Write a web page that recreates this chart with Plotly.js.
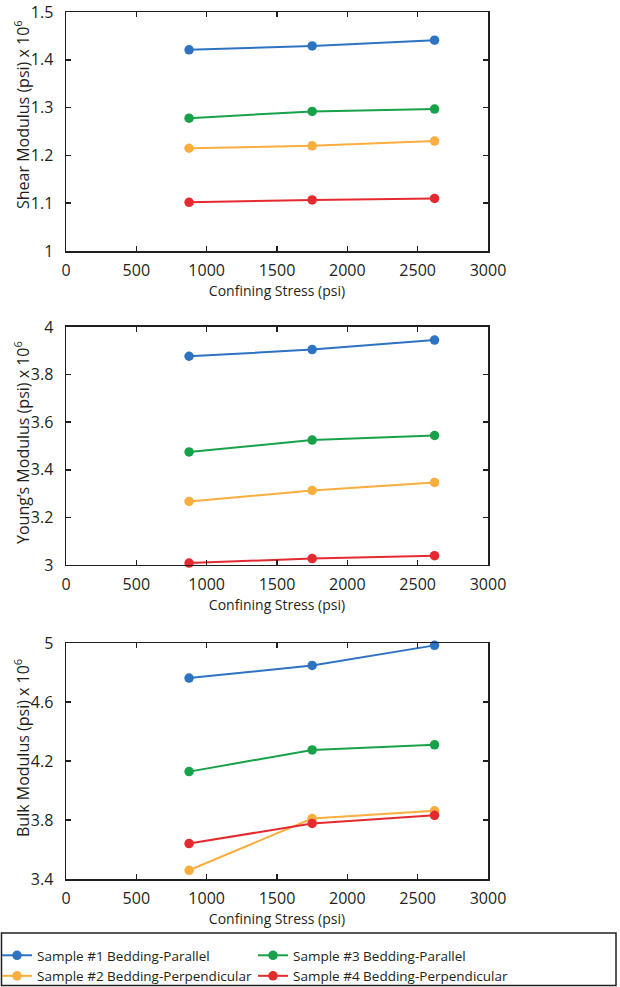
<!DOCTYPE html>
<html>
<head>
<meta charset="utf-8">
<script src="https://cdn.plot.ly/plotly-3.0.1.min.js"></script>
<style>
html,body{margin:0;padding:0;background:#fff;}
#chart{width:620px;height:987px;}
</style>
</head>
<body>
<div id="chart"></div>
<script>
// Confining stress (psi)
const confiningStress = [875, 1750, 2620];

// Series names
const seriesNames = [
  "Sample #1 Bedding-Parallel",
  "Sample #2 Bedding-Perpendicular",
  "Sample #3 Bedding-Parallel",
  "Sample #4 Bedding-Perpendicular"
];
const seriesColors = ["#2e72c2", "#f9ae3d", "#17a24a", "#e42a2f"];

// Shear modulus (psi x 10^6)
const shearS1 = [1.421, 1.429, 1.441];
const shearS2 = [1.215, 1.220, 1.230];
const shearS3 = [1.278, 1.292, 1.297];
const shearS4 = [1.102, 1.107, 1.110];

// Young's modulus (psi x 10^6)
const youngS1 = [3.877, 3.905, 3.945];
const youngS2 = [3.267, 3.313, 3.347];
const youngS3 = [3.475, 3.525, 3.544];
const youngS4 = [3.008, 3.027, 3.039];

// Bulk modulus (psi x 10^6)
const bulkS1 = [4.762, 4.848, 4.984];
const bulkS2 = [3.459, 3.810, 3.862];
const bulkS3 = [4.128, 4.275, 4.310];
const bulkS4 = [3.640, 3.777, 3.832];

const xTicks = [0, 500, 1000, 1500, 2000, 2500, 3000];
const shearTicks = [1, 1.1, 1.2, 1.3, 1.4, 1.5];
const youngTicks = [3, 3.2, 3.4, 3.6, 3.8, 4];
const bulkTicks = [3.4, 3.8, 4.2, 4.6, 5];

const yTitles = [
  "Shear Modulus (psi) x 10<sup>6</sup>",
  "Young’s Modulus (psi) x 10<sup>6</sup>",
  "Bulk Modulus (psi) x 10<sup>6</sup>"
];

const panels = [
  {ax: "", data: [shearS1, shearS2, shearS3, shearS4]},
  {ax: "2", data: [youngS1, youngS2, youngS3, youngS4]},
  {ax: "3", data: [bulkS1, bulkS2, bulkS3, bulkS4]}
];

// legend columns: #1,#2 in first legend; #3,#4 in second
const legendOf = ["legend", "legend", "legend2", "legend2"];
const order = [0, 2, 1, 3];
const traces = [];
panels.forEach((p, pi) => {
  order.forEach(si => {
    traces.push({
      x: confiningStress,
      y: p.data[si],
      type: "scatter",
      mode: "lines+markers",
      name: seriesNames[si],
      line: {color: seriesColors[si], width: 2},
      marker: {color: seriesColors[si], size: 9.5},
      xaxis: "x" + p.ax,
      yaxis: "y" + p.ax,
      legend: legendOf[si],
      legendrank: si,
      showlegend: pi === 0,
      cliponaxis: false
    });
  });
});

const ink = "#231f20";
const font = {family: "Open Sans, sans-serif", size: 14, color: ink};
function xax(anchor) {
  return {
    range: [0, 3000], tickvals: xTicks, ticktext: xTicks.map(String),
    anchor: anchor, domain: [0, 1], automargin: false,
    showline: true, linecolor: ink, linewidth: 1.5, mirror: "ticks",
    ticks: "inside", ticklen: 5, tickwidth: 1.5, tickcolor: ink,
    showgrid: false, zeroline: false,
    tickfont: {size: 16}, ticklabelstandoff: 4,
    title: {text: "Confining Stress (psi)", font: {size: 14}, standoff: 6}
  };
}
function yax(anchor, dom, range, ticks) {
  return {
    range: range, tickvals: ticks, ticktext: ticks.map(String),
    anchor: anchor, domain: dom, automargin: false,
    showline: true, linecolor: ink, linewidth: 1.5, mirror: "ticks",
    ticks: "inside", ticklen: 5, tickwidth: 1.5, tickcolor: ink,
    showgrid: false, zeroline: false,
    tickfont: {size: 16}, ticklabelstandoff: 8
  };
}

function px2x(p) { return (p - 66) / 422; }
function px2y(p) { return (879 - p) / 867; }

const legendCommon = {
  orientation: "v",
  yanchor: "top", xanchor: "left",
  bgcolor: "rgba(0,0,0,0)", borderwidth: 0,
  itemwidth: 30, tracegroupgap: 0,
  font: {size: 13.5, color: ink}
};

const titleCenters = [115, 443, 748];
const annotations = yTitles.map((t, i) => ({
  text: t, textangle: -90, showarrow: false,
  xref: "paper", yref: "paper",
  x: px2x(22), y: px2y(titleCenters[i]),
  xanchor: "center", yanchor: "middle",
  font: {size: 16, color: ink}
}));

const layout = {
  width: 620, height: 987,
  margin: {l: 66, r: 132, t: 12, b: 108, autoexpand: false},
  paper_bgcolor: "#fff", plot_bgcolor: "#fff",
  font: font,
  showlegend: true,
  xaxis: xax("y"),
  yaxis: yax("x", [0.7243, 1], [1, 1.5], shearTicks),
  xaxis2: xax("y2"),
  yaxis2: yax("x2", [0.3622, 0.6367], [3, 4], youngTicks),
  xaxis3: xax("y3"),
  yaxis3: yax("x3", [0, 0.2722], [3.4, 5], bulkTicks),
  legend: Object.assign({}, legendCommon, {x: px2x(-3), y: px2y(940)}),
  legend2: Object.assign({}, legendCommon, {x: px2x(253), y: px2y(940)}),
  annotations: annotations,
  shapes: [{
    type: "rect", xref: "paper", yref: "paper",
    x0: px2x(1.5), x1: px2x(616), y0: px2y(985.5), y1: px2y(933),
    line: {color: ink, width: 1.5}, fillcolor: "rgba(0,0,0,0)"
  }]
};

Plotly.newPlot("chart", traces, layout, {displayModeBar: false, staticPlot: true});
</script>
</body>
</html>
